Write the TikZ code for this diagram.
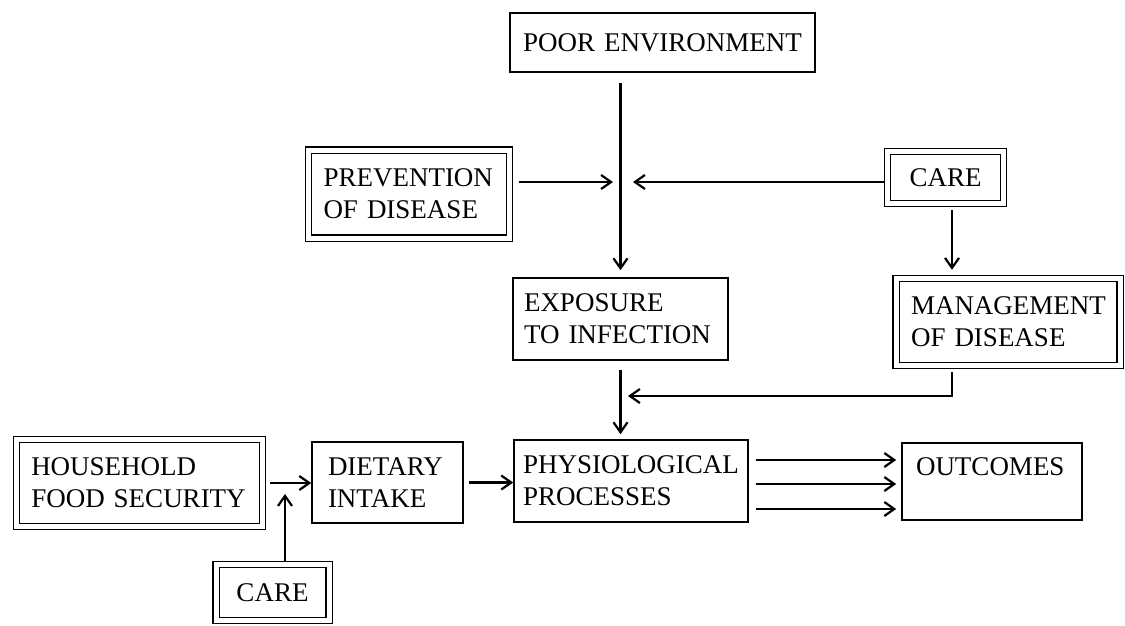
\documentclass[tikz,border=0pt]{standalone}
\usepackage{fontspec}
\setmainfont{Liberation Serif}
\usetikzlibrary{arrows.meta}
\newcommand{\boxfont}{\fontsize{27}{32}\selectfont}
\tikzset{
	box/.style={draw, line width=1.6pt, inner xsep=11pt, inner ysep=0pt, align=left, font=\boxfont},
	dbox/.style={box, double, double distance=5pt, line width=1.2pt, inner xsep=15pt, outer sep=3.7pt},
	arr/.style={line width=2.2pt, -{Straight Barb[length=10pt,width=14pt]}},
}

\begin{document}
\begin{tikzpicture}[x=1pt, y=-1pt]
			%%%%% START %%%%%
			\useasboundingbox (0,0) rectangle (1125,625);
			
			\node[box, align=center, text width=283pt, minimum height=59pt] (poor) at (662.5,42.5) {POOR ENVIRONMENT};
			\node[dbox, text width=171pt, minimum height=88pt] (prevent) at (409,194) {PREVENTION\\OF DISEASE};
			\node[dbox, align=center, text width=86pt, minimum height=52pt] (careTop) at (945.5,177.5) {CARE};
			
			\node[box, text width=193pt, minimum height=82pt] (expo) at (620.5,319) {EXPOSURE\\TO INFECTION};
			\node[dbox, text width=194pt, minimum height=87pt] (manage) at (1008,322) {MANAGEMENT\\OF DISEASE};
			
			\node[dbox, text width=216pt, minimum height=87pt] (house) at (139.25,483) {HOUSEHOLD\\FOOD SECURITY};
			\node[box, inner xsep=16pt, text width=119pt, minimum height=81pt] (diet) at (387.5,482.5) {DIETARY\\INTAKE};
			\node[box, inner xsep=9pt, text width=216pt, minimum height=82pt] (phys) at (631,481) {PHYSIOLOGICAL\\PROCESSES};
			\node[box, inner xsep=14pt, text width=152pt, text height=32pt, text depth=45pt] (outc) at (992,481.5) {OUTCOMES};
			\node[dbox, align=center, text width=83pt, minimum height=56pt] (careBot) at (272.5,592.5) {CARE};
			
			% where the side arrows meet the main line
			\coordinate (meet) at (620,182);
			\coordinate (merge) at (620,396);
			\coordinate (feed) at (285,484);
			
			\draw[arr, shorten <=10pt, shorten >=7pt] (expo.north |- poor.south) -- (expo.north);
			\draw[arr, shorten <=6pt] (prevent.east |- meet) -- ([xshift=-7pt]meet);
			\draw[arr] (careTop.west |- meet) -- ([xshift=13pt]meet);
			\draw[arr, shorten <=3pt, shorten >=5pt] ([xshift=6.5pt]careTop.south) -- ([xshift=6.5pt]careTop.south |- manage.north);
			
			\draw[arr, shorten <=9pt, shorten >=5pt] (expo.south) -- (expo.south |- phys.north);
			\draw[arr, shorten <=3pt] ([xshift=-56pt]manage.south) |- ([xshift=8pt]merge);
			
			\draw[arr, shorten <=4pt] (house.east) -- (diet.west |- house.east);
			\draw[arr] (careBot.north -| feed) -- ([yshift=-10pt]feed);
			\draw[arr, shorten <=5pt] (diet.east) -- (phys.west |- diet.east);
			
			\foreach \dy in {21,-3,-28}
				\draw[arr, shorten <=7pt, shorten >=5pt] ([yshift=\dy pt]phys.east) -- ([yshift=\dy pt]phys.east -| outc.west);
			
			%%%%% END %%%%%
\end{tikzpicture}
\end{document}
